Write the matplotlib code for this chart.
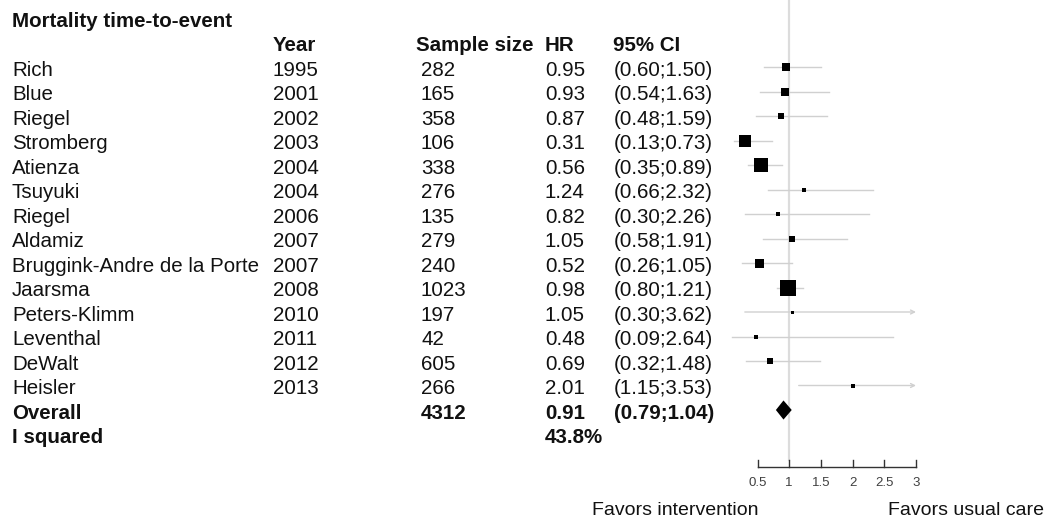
# Forest plot: mortality time-to-event, HR with 95% CI per study

import numpy as np
import matplotlib.pyplot as plt
from matplotlib import transforms

plt.rcParams['font.family'] = ['Liberation Sans', 'DejaVu Sans']

# --- data ---
studies = ['Rich', 'Blue', 'Riegel', 'Stromberg', 'Atienza', 'Tsuyuki', 'Riegel',
           'Aldamiz', 'Bruggink-Andre de la Porte', 'Jaarsma', 'Peters-Klimm',
           'Leventhal', 'DeWalt', 'Heisler']
years = [1995, 2001, 2002, 2003, 2004, 2004, 2006, 2007, 2007, 2008, 2010, 2011, 2012, 2013]
sample_sizes = [282, 165, 358, 106, 338, 276, 135, 279, 240, 1023, 197, 42, 605, 266]
hr = [0.95, 0.93, 0.87, 0.31, 0.56, 1.24, 0.82, 1.05, 0.52, 0.98, 1.05, 0.48, 0.69, 2.01]
ci_low = [0.60, 0.54, 0.48, 0.13, 0.35, 0.66, 0.30, 0.58, 0.26, 0.80, 0.30, 0.09, 0.32, 1.15]
ci_high = [1.50, 1.63, 1.59, 0.73, 0.89, 2.32, 2.26, 1.91, 1.05, 1.21, 3.62, 2.64, 1.48, 3.53]
# study weights (%)
weights = [7.6, 5.3, 4.0, 13.8, 18.9, 2.2, 1.4, 3.6, 8.1, 26.7, 0.9, 1.4, 4.5, 1.4]

overall_n = 4312
overall_hr = 0.91
overall_low = 0.79
overall_high = 1.04
i_squared = '43.8%'

ticks = [0.5, 1, 1.5, 2, 2.5, 3]
tick_labels = ['0.5', '1', '1.5', '2', '2.5', '3']
x_max = 3

# --- layout (pixels of the 1057x522 picture) ---
W, H = 1057, 522
row0_px, row_h = 67, 24.5
fig = plt.figure(figsize=(W / 100, H / 100), dpi=100)
ax = fig.add_axes([757.5 / W, 0, (916 - 757.5) / W, 1])
ax.set_xlim(0.5, 3)
ax.set_ylim((H - row0_px) / row_h, -row0_px / row_h)
ax.axis('off')

def px_row(px):
    return (px - row0_px) / row_h

tr = transforms.blended_transform_factory(fig.transFigure, ax.transData)
FS = 14.8

def put(xpx, row, s, bold=False, size=FS):
    fig.text(xpx / W, row + 0.36, s, transform=tr, ha='left', va='baseline',
             fontsize=size, fontweight='bold' if bold else 'normal', color='#111111')

# header
put(12, -2, 'Mortality time-to-event', bold=True)
put(273, -1, 'Year', bold=True)
put(416, -1, 'Sample size', bold=True)
put(545, -1, 'HR', bold=True)
put(613, -1, '95% CI', bold=True)

# study rows
for i in range(len(studies)):
    put(12, i, studies[i])
    put(273, i, str(years[i]))
    put(421, i, str(sample_sizes[i]))
    put(545, i, f'{hr[i]:.2f}')
    put(614, i, f'({ci_low[i]:.2f};{ci_high[i]:.2f})')

n = len(studies)
put(12, n, 'Overall', bold=True)
put(421, n, str(overall_n), bold=True)
put(545, n, f'{overall_hr:.2f}', bold=True)
put(614, n, f'({overall_low:.2f};{overall_high:.2f})', bold=True)
put(12, n + 1, 'I squared', bold=True)
put(545, n + 1, i_squared, bold=True)

# reference line at HR = 1
axis_row = px_row(467.3)
tick_top = px_row(460)
ax.plot([1, 1], [px_row(0), tick_top], color='#dcdcdc', lw=1.6, zorder=0, clip_on=False)

# confidence intervals
ci_color = '#d0d0d0'
for i in range(n):
    if ci_high[i] > x_max:
        ax.annotate('', xy=(x_max, i), xytext=(ci_low[i], i),
                    arrowprops=dict(arrowstyle='->', color=ci_color, lw=1.0,
                                    mutation_scale=7, shrinkA=0, shrinkB=0),
                    annotation_clip=False)
    else:
        ax.plot([ci_low[i], ci_high[i]], [i, i], color=ci_color, lw=1.0, clip_on=False)

# squares sized by weight
for i in range(n):
    side_px = np.sqrt(weights[i] * 10)
    ax.plot(hr[i], i, marker='s', ms=side_px * 0.72, mew=0, color='black',
            ls='none', clip_on=False, zorder=3)

# pooled diamond
dh = 0.39
ax.fill([overall_low, overall_hr, overall_high, overall_hr],
        [n, n - dh, n, n + dh], color='black', lw=0, zorder=3)

# x axis
axis_color = '#333333'
ax.plot([ticks[0], ticks[-1]], [axis_row, axis_row], color=axis_color, lw=1.0, clip_on=False)
for t, lab in zip(ticks, tick_labels):
    ax.plot([t, t], [axis_row, tick_top], color=axis_color, lw=1.0, clip_on=False)
    ax.text(t, px_row(483), lab, ha='center', va='center', fontsize=9.5,
            color='#404040', clip_on=False)

# direction labels
fav_row = px_row(515) - 0.36
put(592, fav_row, 'Favors intervention', size=14)
put(888, fav_row, 'Favors usual care', size=14)

fig.savefig('out.png', dpi=100)
